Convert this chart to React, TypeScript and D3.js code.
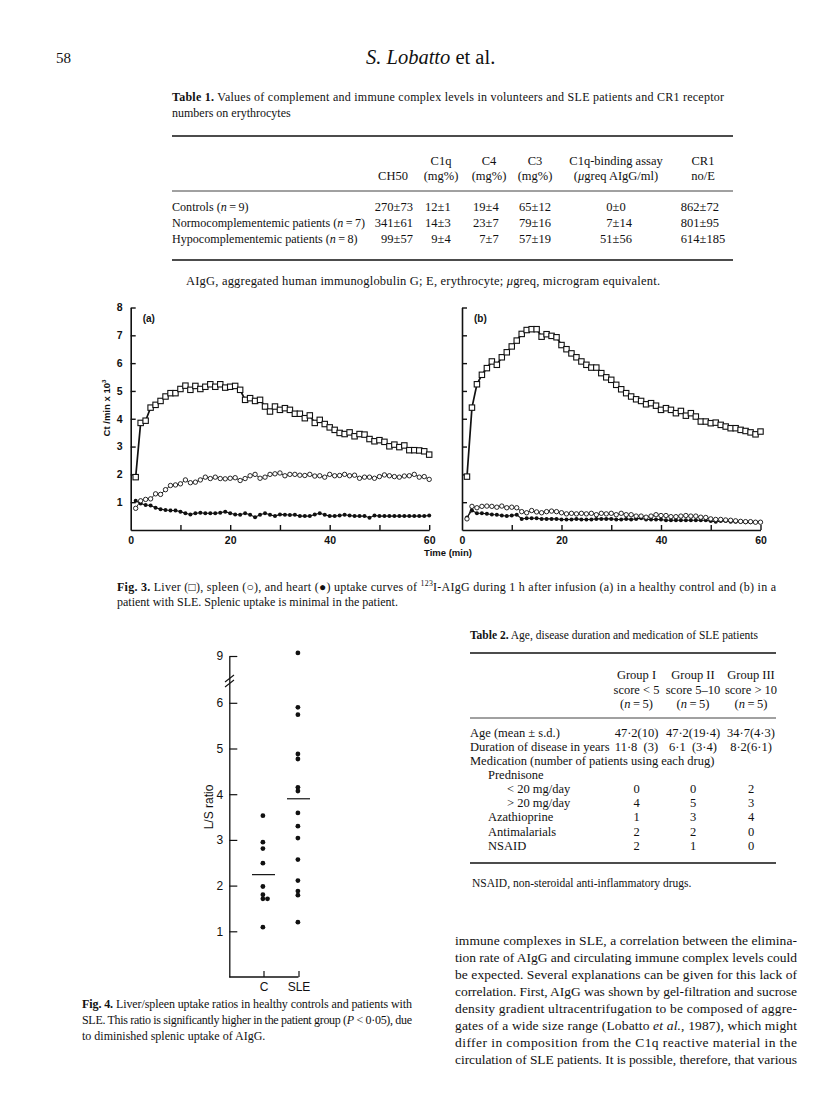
import React, { useEffect, useRef } from 'react';
import * as d3 from 'd3';

// ---- Fig. 3: counts (x 10^3 ct/min) read once a minute ----
const minutes = [
  1, 2, 3, 4, 5, 6, 7, 8, 9, 10, 11, 12, 13, 14, 15, 16, 17, 18, 19, 20,
  21, 22, 23, 24, 25, 26, 27, 28, 29, 30, 31, 32, 33, 34, 35, 36, 37, 38, 39, 40,
  41, 42, 43, 44, 45, 46, 47, 48, 49, 50, 51, 52, 53, 54, 55, 56, 57, 58, 59, 60,
];
// (a) healthy control
const liverA = [
  1.9, 3.85, 3.93, 4.4, 4.5, 4.64, 4.8, 4.92, 4.92, 5.07,
  5.19, 5.04, 5.18, 5.07, 5.15, 5.24, 5.15, 5.24, 5.12, 5.15,
  5.18, 5.04, 4.68, 4.74, 4.64, 4.68, 4.44, 4.26, 4.44, 4.32,
  4.38, 4.32, 4.18, 4.18, 4.02, 4.12, 3.85, 3.96, 3.81, 3.69,
  3.6, 3.49, 3.45, 3.51, 3.37, 3.45, 3.43, 3.27, 3.19, 3.23,
  3.17, 3.01, 3.07, 2.98, 3.04, 2.87, 2.87, 2.86, 2.83, 2.71,
];
const spleenA = [
  0.78, 1.05, 1.1, 1.12, 1.3, 1.28, 1.45, 1.6, 1.62, 1.66,
  1.8, 1.7, 1.72, 1.8, 1.9, 1.85, 1.9, 1.85, 1.84, 1.86,
  1.88, 1.78, 1.85, 1.95, 2.0, 1.86, 1.9, 2.0, 2.02, 2.05,
  1.95, 2.0, 2.0, 1.97, 1.96, 2.0, 1.94, 1.95, 1.9, 2.0,
  1.95, 1.96, 2.0, 1.95, 1.97, 1.86, 1.9, 1.9, 1.86, 1.92,
  1.98, 1.95, 1.92, 1.9, 1.94, 1.95, 2.0, 1.9, 1.92, 1.82,
];
const heartA = [
  1.05, 0.95, 0.9, 0.88, 0.8, 0.75, 0.72, 0.7, 0.7, 0.66,
  0.6, 0.56, 0.6, 0.62, 0.6, 0.6, 0.6, 0.62, 0.66, 0.6,
  0.56, 0.55, 0.6, 0.55, 0.46, 0.55, 0.6, 0.55, 0.5, 0.56,
  0.55, 0.54, 0.55, 0.5, 0.5, 0.5, 0.56, 0.6, 0.55, 0.5,
  0.5, 0.52, 0.55, 0.52, 0.5, 0.5, 0.5, 0.44, 0.52, 0.5,
  0.5, 0.5, 0.5, 0.5, 0.5, 0.5, 0.5, 0.5, 0.5, 0.52,
];
// (b) SLE patient
const liverB = [
  1.92, 4.4, 5.24, 5.58, 5.82, 6.06, 5.94, 6.21, 6.39, 6.6,
  6.81, 7.05, 7.19, 7.22, 7.22, 6.95, 7.04, 6.98, 6.93, 6.65,
  6.5, 6.35, 6.21, 6.06, 5.94, 5.84, 5.84, 5.64, 5.49, 5.4,
  5.22, 5.06, 4.92, 4.8, 4.7, 4.64, 4.52, 4.56, 4.47, 4.32,
  4.38, 4.32, 4.2, 4.28, 4.11, 4.2, 4.08, 3.9, 3.9, 3.84,
  3.86, 3.78, 3.72, 3.66, 3.66, 3.6, 3.56, 3.51, 3.44, 3.54,
];
const spleenB = [
  0.4, 0.85, 0.8, 0.85, 0.86, 0.85, 0.82, 0.86, 0.8, 0.82,
  0.8, 0.66, 0.62, 0.7, 0.65, 0.62, 0.66, 0.68, 0.66, 0.62,
  0.58, 0.6, 0.58, 0.6, 0.58, 0.6, 0.55, 0.6, 0.58, 0.6,
  0.55, 0.6, 0.55, 0.55, 0.5, 0.5, 0.46, 0.5, 0.55, 0.52,
  0.52, 0.48, 0.48, 0.5, 0.52, 0.5, 0.5, 0.46, 0.45, 0.4,
  0.38, 0.38, 0.36, 0.35, 0.33, 0.31, 0.3, 0.3, 0.28, 0.28,
];
const heartB = [
  0.45, 0.7, 0.6, 0.6, 0.58, 0.56, 0.55, 0.52, 0.5, 0.52,
  0.55, 0.4, 0.42, 0.42, 0.42, 0.4, 0.4, 0.4, 0.4, 0.38,
  0.38, 0.38, 0.4, 0.38, 0.38, 0.38, 0.4, 0.4, 0.4, 0.4,
  0.38, 0.38, 0.4, 0.38, 0.4, 0.42, 0.38, 0.38, 0.38, 0.38,
  0.35, 0.35, 0.35, 0.35, 0.35, 0.35, 0.35, 0.35, 0.35, 0.32,
  0.3, 0.32, 0.32, 0.3, 0.3, 0.3, 0.28, 0.28, 0.28, 0.28,
];
const fig3YTicks = [1, 2, 3, 4, 5, 6, 7, 8];
const fig3XTicks = [0, 10, 20, 30, 40, 50, 60];

// ---- Fig. 4: liver/spleen ratios ----
const fig4Groups = ['C', 'SLE'];
const ratioC = [3.53, 2.95, 2.81, 2.49, 1.98, 1.8, 1.71, 1.71, 1.09];
const ratioSLE = [9.2, 5.9, 5.74, 4.88, 4.77, 4.15, 4.07, 3.59, 3.3, 3.04, 2.57, 2.11, 1.88, 1.79, 1.2];
const groupMeans = [2.24, 3.9];
const fig4YTicks = [1, 2, 3, 4, 5, 6, 9];

// ---- Table 1 ----
const t1Rows = ['Controls', 'Normocomplementemic patients', 'Hypocomplementemic patients'];
const t1N = [9, 7, 8];
const t1Head1 = ['', 'C1q', 'C4', 'C3', 'C1q-binding assay', 'CR1'];
const t1Head2 = ['CH50', '(mg%)', '(mg%)', '(mg%)', '(μgreq AIgG/ml)', 'no/E'];
const ch50 = [[270, 73], [341, 61], [99, 57]];
const c1q = [[12, 1], [14, 3], [9, 4]];
const c4 = [[19, 4], [23, 7], [7, 7]];
const c3 = [[65, 12], [79, 16], [57, 19]];
const c1qBinding = [[0, 0], [7, 14], [51, 56]];
const cr1 = [[862, 72], [801, 95], [614, 185]];

// ---- Table 2 ----
const t2Groups = ['Group I', 'Group II', 'Group III'];
const t2Scores = ['score < 5', 'score 5–10', 'score > 10'];
const t2N = [5, 5, 5];
const ageMeanSd = ['47·2(10)', '47·2(19·4)', '34·7(4·3)'];
const durationYears = ['11·8  (3)', '6·1  (3·4)', '8·2(6·1)'];
const medLabels = ['< 20 mg/day', '> 20 mg/day', 'Azathioprine', 'Antimalarials', 'NSAID'];
const medCounts = [[0, 0, 2], [4, 5, 3], [1, 3, 4], [2, 2, 0], [2, 1, 0]];

const SERIF = '"Liberation Serif", "Times New Roman", serif';
const SANS = '"Liberation Sans", Arial, sans-serif';

type Part = string | { t: string; b?: boolean; i?: boolean; sup?: boolean };

// text with bold / italic / superscript runs
function rich(g: any, x: number, y: number, parts: Part[], o: any = {}) {
  const size = o.size ?? 12;
  const t = g.append('text')
    .attr('x', x).attr('y', y)
    .attr('font-family', o.family ?? SERIF)
    .attr('font-size', size)
    .attr('text-anchor', o.anchor ?? 'start')
    .attr('fill', '#111');
  if (o.bold) t.attr('font-weight', 'bold');
  if (o.len) t.attr('textLength', o.len).attr('lengthAdjust', 'spacing');
  let shifted = false;
  parts.forEach(p => {
    const q = typeof p === 'string' ? { t: p } : p;
    const s = t.append('tspan').text(q.t);
    if (q.b) s.attr('font-weight', 'bold');
    if (q.i) s.attr('font-style', 'italic');
    if (q.sup) { s.attr('font-size', size * 0.65).attr('dy', -size * 0.38); shifted = true; }
    else if (shifted) { s.attr('dy', size * 0.38); shifted = false; }
  });
  return t;
}

const App = () => {
  const ref = useRef<SVGSVGElement>(null);

  useEffect(() => {
    document.body.style.margin = '0';
    const svg = d3.select(ref.current);
    svg.selectAll('*').remove();
    svg.append('rect').attr('width', 816).attr('height', 1119).attr('fill', '#fff');

    // running head
    rich(svg, 56, 63, ['58'], { size: 15 });
    rich(svg, 366, 64, [{ t: 'S. Lobatto', i: true }, ' et al.'], { size: 20.5 });

    const rule = (g: any, x1: number, x2: number, y: number, w: number) =>
      g.append('line').attr('x1', x1).attr('x2', x2).attr('y1', y).attr('y2', y).attr('stroke', '#111').attr('stroke-width', w);

    // ---------- Table 1 ----------
    const t1 = svg.append('g');
    rich(t1, 172, 101, [{ t: 'Table 1.', b: true }, ' Values of complement and immune complex levels in volunteers and SLE patients and CR1 receptor'], { size: 12, len: 552 });
    rich(t1, 172, 117, ['numbers on erythrocytes'], { size: 12 });
    rule(t1, 172, 733, 136, 1.7);
    const t1Cols = [397, 441, 489, 535, 616, 703];
    t1Head1.forEach((h, i) => h && rich(t1, t1Cols[i], 165, [h], { size: 12.5, anchor: 'middle' }));
    t1Head2.forEach((h, i) => {
      const parts: Part[] = h.startsWith('(μ') ? ['(', { t: 'μ', i: true }, h.slice(2)] : [h];
      rich(t1, t1Cols[i] - (i === 0 ? 4 : 0), 180, parts, { size: 12.5, anchor: 'middle' });
    });
    rule(t1, 172, 733, 191, 0.8);
    const t1Data = [ch50, c1q, c4, c3, c1qBinding, cr1];
    const rowY = [211, 227, 243];
    t1Rows.forEach((r, ri) => {
      rich(t1, 172, rowY[ri], [r + ' (', { t: 'n', i: true }, `\u2009=\u2009${t1N[ri]})`], { size: 12.1 });
      t1Data.forEach((col, ci) => {
        const [m, sd] = col[ri];
        const cx = t1Cols[ci];
        rich(t1, cx - 3.6, rowY[ri], [String(m)], { size: 12.5, anchor: 'end' });
        rich(t1, cx, rowY[ri], ['±'], { size: 12.5, anchor: 'middle' });
        rich(t1, cx + 3.6, rowY[ri], [String(sd)], { size: 12.5 });
      });
    });
    rule(t1, 172, 733, 260, 1.7);
    rich(t1, 186, 285, ['AIgG, aggregated human immunoglobulin G; E, erythrocyte; ', { t: 'μ', i: true }, 'greq, microgram equivalent.'], { size: 12.5, len: 474 });

    // ---------- Fig. 3 ----------
    const y3 = d3.scaleLinear().domain([0, 8]).range([530, 307.5]);
    const panel = (x0: number, liver: number[], spleen: number[], heart: number[], tag: string, labels: boolean) => {
      const x = d3.scaleLinear().domain([0, 60]).range([x0, x0 + 298.5]);
      const g = svg.append('g');
      const ya = g.append('g').attr('transform', `translate(${x0},0)`)
        .call(d3.axisLeft(y3).tickValues(fig3YTicks).tickSize(-5).tickSizeOuter(0).tickPadding(8)
          .tickFormat(labels ? (d: any) => String(d) : () => ''));
      const xa = g.append('g').attr('transform', `translate(0,${y3(0)})`)
        .call(d3.axisBottom(x).tickValues(fig3XTicks).tickSize(-5).tickSizeOuter(0).tickPadding(7)
          .tickFormat((d: any) => (d % 20 === 0 ? String(d) : '')));
      [ya, xa].forEach(a => {
        a.select('.domain').attr('stroke', '#111').attr('stroke-width', 1.6);
        a.selectAll('.tick line').attr('stroke', '#111').attr('stroke-width', 1.4);
        a.selectAll('.tick text').attr('font-family', SANS).attr('font-weight', 'bold').attr('font-size', 10.5).attr('fill', '#111');
      });
      xa.selectAll('.tick').filter((d: any) => d === 0).select('line').remove();
      rich(g, x0 + 12, 322, [`(${tag})`], { size: 10, family: SANS, bold: true });

      const series = (vals: number[]) => minutes.map((m, i) => [x(m), y3(vals[i])] as [number, number]);
      const line = d3.line();
      g.append('path').attr('d', line(series(heart))).attr('fill', 'none').attr('stroke', '#111').attr('stroke-width', 1.1);
      g.append('path').attr('d', line(series(spleen))).attr('fill', 'none').attr('stroke', '#111').attr('stroke-width', 0.9);
      g.append('path').attr('d', line(series(liver))).attr('fill', 'none').attr('stroke', '#111').attr('stroke-width', 1.7);
      g.selectAll('.heart').data(series(heart)).join('circle')
        .attr('cx', d => d[0]).attr('cy', d => d[1]).attr('r', 2).attr('fill', '#111');
      g.selectAll('.spleen').data(series(spleen)).join('circle')
        .attr('cx', d => d[0]).attr('cy', d => d[1]).attr('r', 2.2).attr('fill', '#fff').attr('stroke', '#111').attr('stroke-width', 0.9);
      g.selectAll('.liver').data(series(liver)).join('rect')
        .attr('x', d => d[0] - 2.7).attr('y', d => d[1] - 2.7).attr('width', 5.4).attr('height', 5.4)
        .attr('fill', '#fff').attr('stroke', '#111').attr('stroke-width', 1.1);
    };
    panel(130.7, liverA, spleenA, heartA, 'a', true);
    panel(462, liverB, spleenB, heartB, 'b', false);

    const yl = svg.append('g').attr('transform', 'translate(110,408) rotate(-90)');
    rich(yl, 0, 0, ['Ct /min x 10', { t: '3', sup: true }], { size: 9.5, family: SANS, bold: true, anchor: 'middle' });
    rich(svg, 448, 556, ['Time  (min)'], { size: 9.5, family: SANS, bold: true, anchor: 'middle' });

    rich(svg, 117, 591, [{ t: 'Fig. 3.', b: true }, ' Liver (□), spleen (○), and heart (●) uptake curves of ', { t: '123', sup: true }, 'I-AIgG during 1 h after infusion (a) in a healthy control and (b) in a'], { size: 12, len: 659 });
    rich(svg, 117, 606, ['patient with SLE. Splenic uptake is minimal in the patient.'], { size: 12 });

    // ---------- Fig. 4 ----------
    const g4 = svg.append('g');
    const y4 = d3.scaleLinear().domain([0, 6, 9]).range([977, 702.8, 656]);
    const x4 = d3.scalePoint().domain(fig4Groups).range([263.5, 298.5]);
    const ax4 = g4.append('g').attr('transform', 'translate(229.3,0)')
      .call(d3.axisLeft(y4).tickValues(fig4YTicks).tickSize(-8).tickSizeOuter(0).tickPadding(6));
    const bx4 = g4.append('g').attr('transform', 'translate(0,977)')
      .call(d3.axisBottom(x4).tickSize(-6).tickSizeOuter(0).tickPadding(5));
    bx4.select('.domain').remove();
    g4.append('line').attr('x1', 229.3).attr('x2', x4('SLE')!).attr('y1', 977).attr('y2', 977).attr('stroke', '#111').attr('stroke-width', 1.3);
    [ax4, bx4].forEach(a => {
      a.select('.domain').attr('stroke', '#111').attr('stroke-width', 1.3);
      a.selectAll('.tick line').attr('stroke', '#111').attr('stroke-width', 1.2);
      a.selectAll('.tick text').attr('font-family', SANS).attr('font-size', 12).attr('fill', '#111');
    });
    // axis break between 6 and 9
    [679, 684].forEach(yy => g4.append('line').attr('x1', 225).attr('x2', 234).attr('y1', yy + 3).attr('y2', yy - 4).attr('stroke', '#111').attr('stroke-width', 1.1));
    [ratioC, ratioSLE].forEach((vals, gi) => {
      const cx = x4(fig4Groups[gi])!;
      const seen = new Map<number, number>();
      const pts = vals.map(v => {
        const k = seen.get(v) ?? 0;
        seen.set(v, k + 1);
        return [cx - 0.6 + k * 4.6, y4(v)];
      });
      g4.selectAll(`.dot${gi}`).data(pts).join('circle')
        .attr('cx', d => d[0]).attr('cy', d => d[1]).attr('r', 2.4).attr('fill', '#111');
      g4.append('line').attr('x1', cx - 11.5).attr('x2', cx + 11.5)
        .attr('y1', y4(groupMeans[gi])).attr('y2', y4(groupMeans[gi])).attr('stroke', '#111').attr('stroke-width', 1.2);
    });
    const yl4 = svg.append('g').attr('transform', 'translate(213,807) rotate(-90)');
    rich(yl4, 0, 0, ['L/S ratio'], { size: 12, family: SANS, anchor: 'middle' });

    rich(svg, 82, 1008, [{ t: 'Fig. 4.', b: true }, ' Liver/spleen uptake ratios in healthy controls and patients with'], { size: 12, len: 330 });
    rich(svg, 82, 1024, ['SLE. This ratio is significantly higher in the patient group (', { t: 'P', i: true }, ' < 0·05), due'], { size: 12, len: 330 });
    rich(svg, 82, 1040, ['to diminished splenic uptake of AIgG.'], { size: 12 });

    // ---------- Table 2 ----------
    const t2 = svg.append('g');
    const t2Cols = [636.5, 693, 751];
    rich(t2, 470, 639, [{ t: 'Table 2.', b: true }, ' Age, disease duration and medication of SLE patients'], { size: 11.5, len: 288 });
    rule(t2, 470, 776, 653, 1.6);
    t2Cols.forEach((cx, i) => {
      rich(t2, cx, 679, [t2Groups[i]], { size: 12.5, anchor: 'middle' });
      rich(t2, cx, 694, [t2Scores[i]], { size: 12.5, anchor: 'middle' });
      rich(t2, cx, 708, ['(', { t: 'n', i: true }, `\u2009=\u2009${t2N[i]})`], { size: 12.5, anchor: 'middle' });
    });
    rule(t2, 470, 776, 718, 0.8);
    rich(t2, 470, 737, ['Age (mean ± s.d.)'], { size: 12.5 });
    rich(t2, 470, 751, ['Duration of disease in years'], { size: 12.5 });
    t2Cols.forEach((cx, i) => {
      rich(t2, cx, 737, [ageMeanSd[i]], { size: 12.5, anchor: 'middle' }).attr('xml:space', 'preserve');
      rich(t2, cx, 751, [durationYears[i]], { size: 12.5, anchor: 'middle' }).attr('xml:space', 'preserve');
    });
    rich(t2, 470, 765, ['Medication (number of patients using each drug)'], { size: 12.5 });
    rich(t2, 488, 779, ['Prednisone'], { size: 12.5 });
    medLabels.forEach((lab, ri) => {
      const yy = 793 + ri * 14.2;
      rich(t2, ri < 2 ? 507 : 488, yy, [lab], { size: 12.5 });
      medCounts[ri].forEach((v, ci) => rich(t2, t2Cols[ci], yy, [String(v)], { size: 12.5, anchor: 'middle' }));
    });
    rule(t2, 470, 776, 863, 1.6);
    rich(t2, 472, 887, ['NSAID, non-steroidal anti-inflammatory drugs.'], { size: 11.5 });

    // ---------- body text ----------
    const body: Part[][] = [
      ['immune complexes in SLE, a correlation between the elimina-'],
      ['tion rate of AIgG and circulating immune complex levels could'],
      ['be expected. Several explanations can be given for this lack of'],
      ['correlation. First, AIgG was shown by gel-filtration and sucrose'],
      ['density gradient ultracentrifugation to be composed of aggre-'],
      ['gates of a wide size range (Lobatto ', { t: 'et al.', i: true }, ', 1987), which might'],
      ['differ in composition from the C1q reactive material in the'],
      ['circulation of SLE patients. It is possible, therefore, that various'],
    ];
    body.forEach((parts, i) => rich(svg, 455, 945 + i * 17, parts, { size: 13.5, len: 342 }));
  }, []);

  return <svg ref={ref} width={816} height={1119} style={{ display: 'block' }} />;
};

export default App;
